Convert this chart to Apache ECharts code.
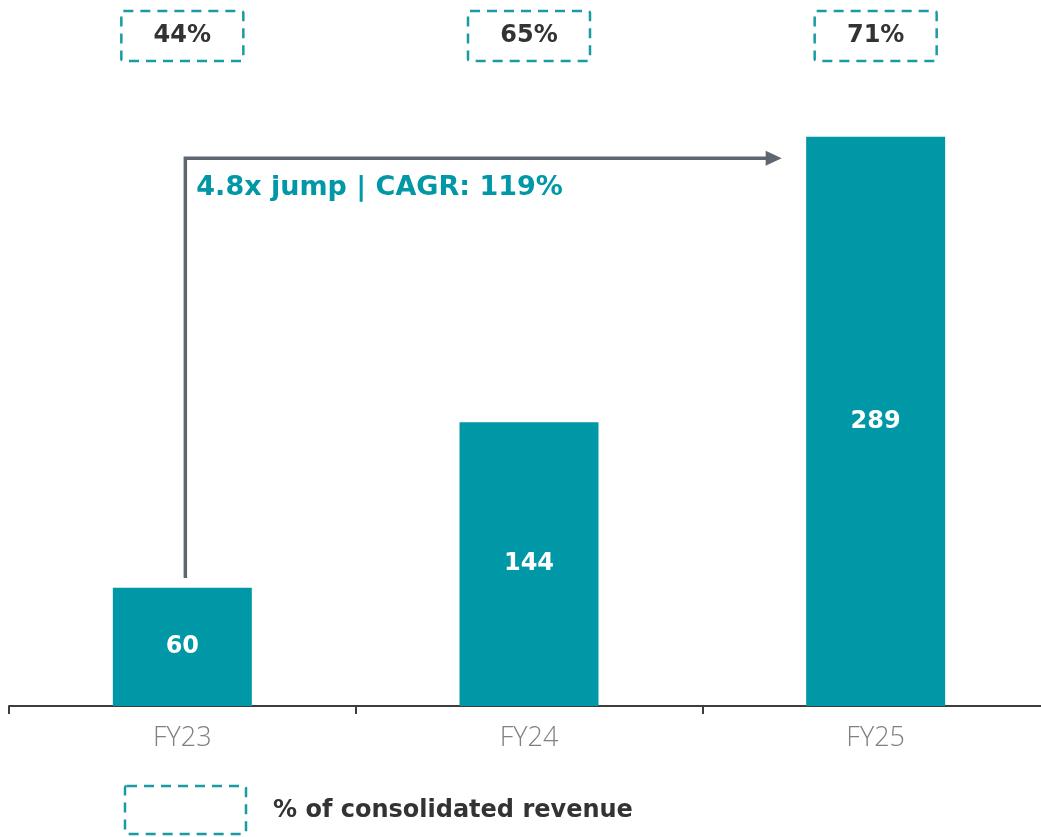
<!DOCTYPE html>
<html>
<head>
<meta charset="utf-8">
<script src="https://cdn.jsdelivr.net/npm/echarts@6/dist/echarts.min.js"></script>
<style>
  html, body { margin: 0; padding: 0; background: #fff; }
  #chart { width: 1041px; height: 837px; }
</style>
</head>
<body>
<div id="chart"></div>
<script>
// chart data
const categories = ['FY23', 'FY24', 'FY25'];
const revenue = [60, 144, 289];
const shareOfRevenue = ['44%', '65%', '71%'];
const jumpText = '4.8x jump | CAGR: 119%';
const legendText = '% of consolidated revenue';

const TEAL = '#0098a6';
const DASH = '#1b9aa6';
const BOLD_FONT = '"DejaVu Sans", "Open Sans", sans-serif';
const LIGHT_FONT = '"Open Sans", "Noto Sans", sans-serif';

const chart = echarts.init(document.getElementById('chart'));

chart.setOption({
  animation: false,
  grid: { left: 9, width: 1040, top: 115, bottom: 131, outerBoundsMode: 'none' },
  xAxis: [
    {
      type: 'category',
      data: categories,
      boundaryGap: true,
      axisLine: { lineStyle: { color: '#3d3d3d', width: 2 } },
      axisTick: { show: true, length: 8, lineStyle: { color: '#3d3d3d', width: 2 } },
      axisLabel: {
        color: '#808080',
        fontFamily: LIGHT_FONT,
        fontWeight: 300,
        fontSize: 27,
        margin: 19,
      },
    },
    {
      type: 'category',
      position: 'top',
      data: categories,
      axisLine: { show: false },
      axisTick: { show: false },
      axisLabel: {
        formatter: (v, i) => shareOfRevenue[i],
        color: '#333333',
        fontFamily: BOLD_FONT,
        fontWeight: 'bold',
        fontSize: 24,
        width: 122,
        height: 50,
        lineHeight: 50,
        align: 'center',
        borderColor: DASH,
        borderWidth: 2.5,
        borderType: [10, 7],
        borderRadius: 2,
        margin: 54,
      },
    },
  ],
  yAxis: {
    type: 'value',
    min: 0,
    max: 300,
    show: false,
    splitLine: { show: false },
  },
  series: [
    {
      name: 'Revenue',
      type: 'bar',
      data: revenue,
      barWidth: 139,
      itemStyle: { color: TEAL },
      label: {
        show: true,
        position: 'inside',
        color: '#ffffff',
        fontFamily: BOLD_FONT,
        fontWeight: 'bold',
        fontSize: 24,
      },
    },
  ],
});

// arrow annotation, anchored on the axes
const start = chart.convertToPixel({ xAxisIndex: 0, yAxisIndex: 0 }, [0, 65]);
const corner = chart.convertToPixel({ xAxisIndex: 0, yAxisIndex: 0 }, [0, 278]);
const endCat = chart.convertToPixel({ xAxisIndex: 0, yAxisIndex: 0 }, [2, 278]);
const x0 = start[0] + 3;
const yTop = corner[1];
const xEnd = endCat[0] - 94;

chart.setOption({
  graphic: [
    {
      type: 'polyline',
      shape: { points: [[x0, start[1]], [x0, yTop], [xEnd - 14, yTop]] },
      style: { stroke: '#5e6670', lineWidth: 3.5, fill: null },
    },
    {
      type: 'polygon',
      shape: { points: [[xEnd - 16, yTop - 7.5], [xEnd, yTop], [xEnd - 16, yTop + 7.5]] },
      style: { fill: '#5e6670' },
    },
    {
      type: 'text',
      x: x0 + 11,
      y: yTop + 30,
      style: {
        text: jumpText,
        fill: TEAL,
        font: 'bold 27px ' + BOLD_FONT,
        verticalAlign: 'middle',
      },
    },
    {
      type: 'rect',
      shape: { x: 125, y: 786, width: 121, height: 48, r: 2 },
      style: { fill: null, stroke: DASH, lineWidth: 2.5, lineDash: [10, 7] },
    },
    {
      type: 'text',
      x: 273,
      y: 811,
      style: {
        text: legendText,
        fill: '#333333',
        font: 'bold 24px ' + BOLD_FONT,
        verticalAlign: 'middle',
      },
    },
  ],
});
</script>
</body>
</html>
